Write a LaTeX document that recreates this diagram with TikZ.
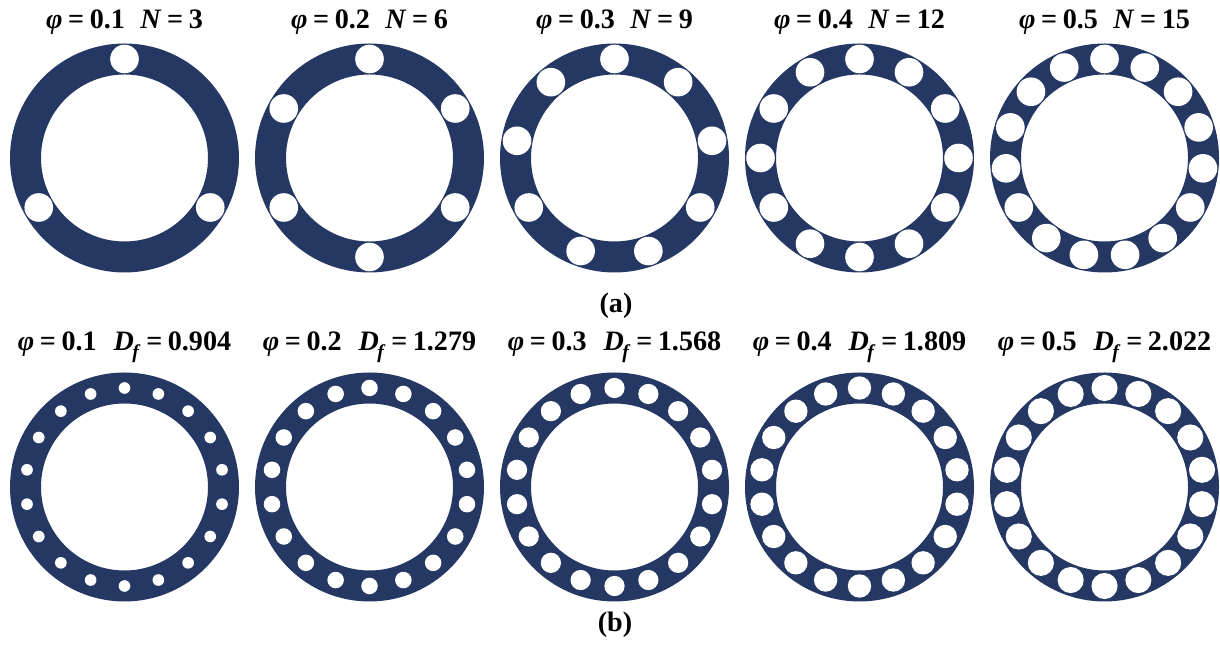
\documentclass[tikz,border=0pt]{standalone}
\usepackage{fontspec}
\setmainfont{Liberation Serif}
\definecolor{ringblue}{RGB}{36,56,99}
\newcommand{\eq}{\hspace{0.2em}=\hspace{0.2em}}
\newcommand{\Df}{\textit{D}\hspace{-0.05em}\raisebox{-0.3em}{\fontsize{14}{14}\selectfont\textit{f}}}
\begin{document}
\begin{tikzpicture}[x=0.025cm, y=0.025cm, font=\fontsize{20}{24}\selectfont\bfseries]
  \useasboundingbox (0,0) rectangle (1220,648);
  % 外径 114.5, 内径 83.5, 穴の中心の半径 99 (単位 px), 穴の半径は phi から決める
  % (a) 穴の数 N を変える
  \foreach \i/\n in {1/3,2/6,3/9,4/12,5/15} {
    \pgfmathsetmacro{\cx}{124.5+245*(\i-1)}
    \pgfmathsetmacro{\rh}{sqrt(0.1*\i*6138/\n)}
    \fill[ringblue, even odd rule] (\cx,490) circle (114.5) (\cx,490) circle (83.5);
    \foreach \k in {1,...,\n}
      \fill[white] ({\cx+99*cos(90+360*(\k-1)/\n)},{490+99*sin(90+360*(\k-1)/\n)}) circle (\rh);
    \node (la\i) at (\cx,626) {\textit{φ}\eq 0.\i\hspace{0.55em}\textit{N}\eq\n};
  }
  \node (capa) at (616,342) {(a)};
  % (b) N = 18 で固定
  \foreach \i/\d in {1/0.904,2/1.279,3/1.568,4/1.809,5/2.022} {
    \pgfmathsetmacro{\cx}{124.5+245*(\i-1)}
    \pgfmathsetmacro{\rh}{sqrt(0.1*\i*6138/18)}
    \fill[ringblue, even odd rule] (\cx,161) circle (114.5) (\cx,161) circle (83.5);
    \foreach \k in {1,...,18}
      \fill[white] ({\cx+99*cos(90+20*(\k-1))},{161+99*sin(90+20*(\k-1))}) circle (\rh);
    \node (lb\i) at (\cx,301) {\textit{φ}\eq 0.\i\hspace{0.6em}\Df\eq\d};
  }
  \node (capb) at (615,23) {(b)};
\end{tikzpicture}
\end{document}
